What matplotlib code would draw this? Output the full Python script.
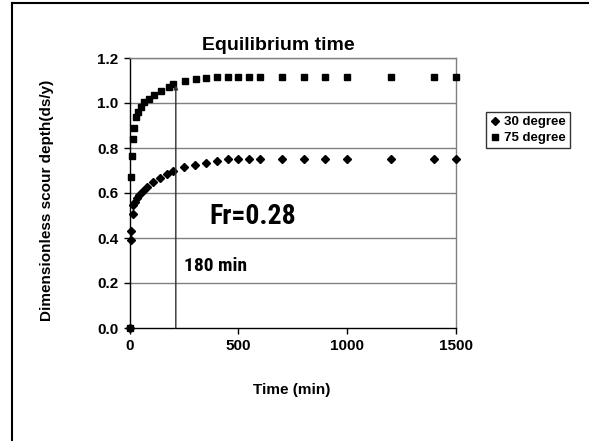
import numpy as np
import matplotlib.pyplot as plt
from matplotlib.lines import Line2D
from matplotlib import font_manager

plt.rcParams['font.family'] = ['Liberation Sans', 'DejaVu Sans']

# data
t_30 = [0, 4, 8, 14, 17, 24, 32, 44, 60, 78, 106, 139, 173, 198, 251, 302, 351,
        400, 451, 500, 550, 600, 700, 800, 900, 1000, 1200, 1400, 1500]
d_30 = [0, 0.39, 0.43, 0.507, 0.547, 0.561, 0.576, 0.591, 0.61, 0.628, 0.647,
        0.665, 0.684, 0.699, 0.717, 0.724, 0.735, 0.742, 0.751, 0.751, 0.751,
        0.751, 0.751, 0.751, 0.751, 0.751, 0.751, 0.751, 0.751]
t_75 = [0, 5, 10, 15, 22, 31, 40, 51, 67, 90, 113, 143, 181, 200, 254, 305, 351,
        403, 453, 500, 550, 600, 700, 800, 900, 1000, 1200, 1400, 1500]
d_75 = [0, 0.67, 0.766, 0.84, 0.89, 0.936, 0.96, 0.984, 1.004, 1.02, 1.036,
        1.052, 1.07, 1.084, 1.096, 1.105, 1.109, 1.115, 1.115, 1.115, 1.115,
        1.115, 1.115, 1.115, 1.115, 1.115, 1.115, 1.115, 1.115]
line_t = 212
line_top = 1.08
x_ticks = [0, 500, 1000, 1500]
y_ticks = [0.0, 0.2, 0.4, 0.6, 0.8, 1.0, 1.2]

# narrow font for the annotations, if one is around
names = {f.name for f in font_manager.fontManager.ttflist}
narrow = None
for cand in ['Liberation Sans Narrow', 'Roboto Condensed', 'DejaVu Sans Condensed',
             'Open Sans Condensed']:
    if cand in names:
        narrow = cand
        break

fig = plt.figure(figsize=(5.89, 4.41), dpi=100)
W, H = 589, 441
ax = fig.add_axes([129.7 / W, 1 - 328 / H, (456 - 129.7) / W, (328 - 58) / H])

# horizontal grid
for yv in y_ticks[1:]:
    ax.axhline(yv, color='#808080', lw=1.0, zorder=1)

ax.plot(t_30, d_30, linestyle='none', marker='D', ms=4.2, color='black',
        label='30 degree', zorder=3, clip_on=False)
ax.plot(t_75, d_75, linestyle='none', marker='s', ms=4.3, color='black',
        label='75 degree', zorder=3, clip_on=False)

# marker line at equilibrium time
ax.annotate('', xy=(line_t, line_top), xytext=(line_t, 0),
            arrowprops=dict(arrowstyle='-|>', color='#303030', lw=1.0,
                            mutation_scale=6, shrinkA=0, shrinkB=0))

ax.set_xlim(0, 1500)
ax.set_ylim(0, 1.2)
ax.set_xticks(x_ticks)
ax.set_yticks(y_ticks)
ax.set_yticklabels([f'{v:.1f}' for v in y_ticks])
for lab in ax.get_xticklabels() + ax.get_yticklabels():
    lab.set_fontweight('bold')
    lab.set_fontsize(11)
ax.tick_params(direction='out', length=4, width=1, color='black', pad=4)
for s in ['top', 'right']:
    ax.spines[s].set_color('#808080')
    ax.spines[s].set_linewidth(1.0)
for s in ['left', 'bottom']:
    ax.spines[s].set_color('black')
    ax.spines[s].set_linewidth(1.0)

fig.text(278 / W, 1 - 45 / H, 'Equilibrium time', fontsize=14, fontweight='bold',
         ha='center', va='center')
fig.text(47 / W, 1 - 200 / H, 'Dimensionless scour depth(ds/y)', fontsize=11,
         fontweight='bold', rotation=90, ha='center', va='center')
fig.text(292 / W, 1 - 390 / H, 'Time (min)', fontsize=11, fontweight='bold',
         ha='center', va='center')

if narrow:
    fam, fr_size, min_size = narrow, 20, 14
else:
    fam, fr_size, min_size = 'Liberation Sans', 16, 12
fig.text(253 / W, 1 - 217 / H, 'Fr=0.28', fontsize=fr_size, fontweight='bold',
         ha='center', va='center', family=fam)
fig.text(216 / W, 1 - 266 / H, '180 min', fontsize=min_size, fontweight='bold',
         ha='center', va='center', family=fam)

leg = ax.legend(loc='upper left', bbox_to_anchor=(486 / W, 1 - 112 / H),
                bbox_transform=fig.transFigure, frameon=True, fancybox=False,
                prop={'weight': 'bold', 'size': 9.5}, handlelength=0.8,
                handletextpad=0.3, borderpad=0.3, labelspacing=0.3,
                borderaxespad=0)
leg.get_frame().set_edgecolor('black')
leg.get_frame().set_linewidth(1.0)

# outer chart border
fig.add_artist(Line2D([12 / W, 12 / W], [0, 1 - 3 / H], color='black', lw=1.5,
                      transform=fig.transFigure))
fig.add_artist(Line2D([12 / W, 1], [1 - 3 / H, 1 - 3 / H], color='black', lw=1.5,
                      transform=fig.transFigure))

fig.savefig('out.png', dpi=100)
